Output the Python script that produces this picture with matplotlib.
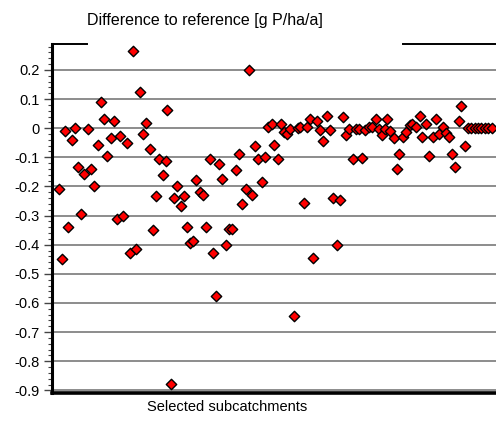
import matplotlib
matplotlib.use("Agg")
import matplotlib.pyplot as plt
from matplotlib.ticker import MultipleLocator, FuncFormatter

plt.rcParams['font.family'] = ['Liberation Sans', 'DejaVu Sans']

# subcatchment position and difference to reference
positions = [2.1, 2.9, 3.9, 4.9, 6.0, 7.0, 8.0, 8.8, 9.8, 10.8,
             11.8, 12.8, 13.8, 14.8, 15.8, 16.8, 17.8, 18.7, 19.6, 20.6,
             21.6, 22.6, 23.5, 24.6, 25.5, 26.6, 27.6, 28.6, 29.6, 30.6,
             31.5, 32.4, 33.5, 34.5, 34.9, 36.0, 37.0, 38.0, 39.0, 40.0,
             40.9, 41.9, 42.8, 43.7, 44.8, 45.8, 46.8, 47.8, 48.7, 49.8,
             50.7, 51.6, 52.8, 53.6, 54.6, 55.8, 56.7, 57.6, 58.7, 59.6,
             60.6, 61.6, 62.5, 63.5, 64.5, 65.4, 66.5, 67.3, 68.4, 69.5,
             70.4, 71.2, 72.2, 73.4, 74.5, 75.2, 76.4, 77.3, 78.2, 79.2,
             80.3, 81.3, 82.1, 83.3, 84.3, 85.1, 86.2, 87.2, 88.1, 89.2,
             90.1, 91.1, 92.1, 93.1, 93.9, 94.9, 96.0, 97.0, 98.0, 99.0,
             100.0, 100.8, 101.5, 102.5, 103.5, 104.5, 105.2, 106.3, 107.3, 108.3,
             109.1, 110.3, 111.4, 112.1, 113.3, 114.3, 115.4, 116.3, 117.3, 118.3,
             119.3, 120.3, 121.2, 122.2, 123.2, 124.0, 125.2, 126.0, 127.0, 128.0,
             129.1, 130.1, 131.1, 132.1, 133.2]
difference = [-0.209, -0.45, -0.011, -0.34, -0.039, 0.001, -0.133, -0.295, -0.157, -0.004,
              -0.139, -0.2, -0.056, 0.089, 0.033, -0.096, -0.033, 0.024, -0.312, -0.027,
              -0.30, -0.052, -0.43, 0.265, -0.416, 0.123, -0.019, 0.018, -0.073, -0.35,
              -0.234, -0.105, -0.16, -0.113, 0.061, -0.877, -0.24, -0.198, -0.268, -0.234,
              -0.34, -0.394, -0.387, -0.177, -0.22, -0.228, -0.34, -0.105, -0.43, -0.577,
              -0.124, -0.173, -0.40, -0.346, -0.346, -0.144, -0.09, -0.26, -0.21, 0.2,
              -0.228, -0.061, -0.107, -0.184, -0.10, 0.005, 0.013, -0.056, -0.107, 0.016,
              -0.014, -0.021, -0.004, -0.645, -0.001, 0.005, -0.257, 0.005, 0.03, -0.446,
              0.024, -0.007, -0.044, 0.043, -0.007, -0.238, -0.40, -0.246, 0.039, -0.025,
              -0.002, -0.107, -0.004, -0.004, -0.101, -0.007, 0.005, 0.005, 0.033, -0.002,
              -0.025, -0.004, 0.033, -0.01, -0.033, -0.139, -0.09, -0.03, -0.014, 0.012,
              0.016, 0.005, 0.041, -0.03, 0.013, -0.096, -0.03, 0.03, -0.021, 0.005,
              -0.016, -0.03, -0.09, -0.133, 0.024, 0.077, -0.061, 0.0, 0.0, 0.0,
              0.0, 0.0, 0.0, 0.0, 0.0]

fig = plt.figure(figsize=(4.96, 4.29), dpi=100)
ax = fig.add_axes([52 / 496, 36 / 429, 444 / 496, 349 / 429])

ax.scatter(positions, difference, marker='D', s=28, c='#ff0000',
           edgecolors='black', linewidths=1.0, zorder=3, clip_on=False)

ax.set_xlim(0, 134.5)
ax.set_ylim(-0.909, 0.289)

ax.yaxis.set_major_locator(MultipleLocator(0.1))
ax.yaxis.set_minor_locator(MultipleLocator(0.02))
ax.yaxis.set_major_formatter(FuncFormatter(lambda v, p: '0' if abs(v) < 1e-9 else f'{v:.1f}'))
ax.tick_params(axis='y', which='major', length=6, width=1, color='#444444',
               labelsize=10.5, pad=3)
ax.tick_params(axis='y', which='minor', length=3, width=0.8, color='#444444')
ax.set_xticks([])

ax.grid(axis='y', which='major', color='#8c8c8c', linewidth=1.4, zorder=1)
ax.set_axisbelow(True)

for side in ['top', 'right']:
    ax.spines[side].set_visible(False)
ax.spines['left'].set_linewidth(2.2)
ax.spines['bottom'].set_linewidth(2.6)

# top frame is interrupted where the title box sits
ax.plot([0, 0.079], [1, 1], transform=ax.transAxes, color='black', lw=1.4, clip_on=False)
ax.plot([0.79, 1.0], [1, 1], transform=ax.transAxes, color='black', lw=1.4, clip_on=False)

fig.text(205 / 496, 1 - 20 / 429, 'Difference to reference [g P/ha/a]',
         ha='center', va='center', fontsize=11.5)
fig.text(227 / 496, 1 - 407 / 429, 'Selected subcatchments',
         ha='center', va='center', fontsize=10.5)

fig.savefig('out.png', dpi=100)
